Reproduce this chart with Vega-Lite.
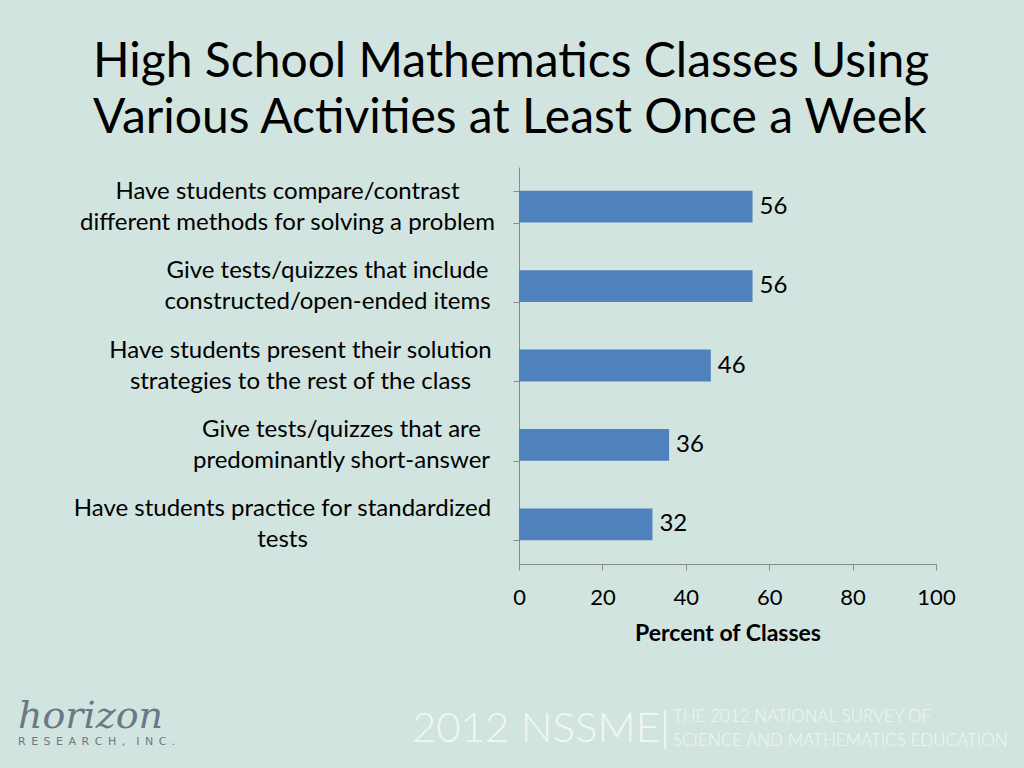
{
  "$schema": "https://vega.github.io/schema/vega-lite/v6.json",
  "background": "#d2e4df",
  "padding": {"left": 18, "top": 39, "right": 20, "bottom": 25},
  "config": {"view": {"stroke": null}, "font": "Lato"},
  "title": {
    "text": "horizon",
    "subtitle": "R\u2002E\u2002S\u2002E\u2002A\u2002R\u2002C\u2002H\u2002,\u2002\u2002I\u2002N\u2002C\u2002.",
    "orient": "bottom",
    "anchor": "start",
    "frame": "bounds",
    "dx": -55,
    "dy": -52,
    "offset": 0,
    "fontSize": 38,
    "font": "DejaVu Serif",
    "fontStyle": "italic",
    "fontWeight": "normal",
    "color": "#6b7885",
    "subtitleFont": "DejaVu Sans",
    "subtitleFontSize": 11,
    "subtitleColor": "#6b7885",
    "subtitlePadding": 0
  },
  "vconcat": [
    {
      "title": {
        "text": "2012 NSSME|",
        "orient": "bottom",
        "anchor": "start",
        "frame": "bounds",
        "dx": 339,
        "dy": -40,
        "offset": 0,
        "fontSize": 42,
        "font": "Lato",
        "fontWeight": 300,
        "color": "#f3f8ee"
      },
      "vconcat": [
        {
          "title": {
            "text": ["THE 2012 NATIONAL SURVEY OF", "SCIENCE AND MATHEMATICS EDUCATION"],
            "orient": "bottom",
            "anchor": "start",
            "frame": "bounds",
            "dx": 600,
            "offset": 64,
            "fontSize": 17,
            "font": "Lato",
            "fontWeight": 300,
            "color": "#f3f8ee",
            "lineHeight": 24
          },
          "vconcat": [
            {
              "title": {
                "text": ["High School Mathematics Classes Using", "Various Activities at Least Once a Week"],
                "anchor": "start",
                "frame": "group",
                "dx": -426,
                "offset": 12,
                "fontSize": 48,
                "font": "Lato",
                "fontWeight": "normal",
                "color": "#000000",
                "lineHeight": 56
              },
              "width": 417,
              "height": 397,
              "data": {
                "values": [
                  {"activity": "Have students compare/contrast|different methods for solving a problem", "percent": 56},
                  {"activity": "Give tests/quizzes that include|constructed/open-ended items", "percent": 56},
                  {"activity": "Have students present their solution|strategies to the rest of the class", "percent": 46},
                  {"activity": "Give tests/quizzes that are|predominantly short-answer", "percent": 36},
                  {"activity": "Have students practice for standardized|tests", "percent": 32}
                ]
              },
              "encoding": {
                "y": {
                  "field": "activity",
                  "type": "nominal",
                  "sort": null,
                  "scale": {"paddingInner": 0.6, "paddingOuter": 0.3},
                  "axis": {
                    "title": null,
                    "labelExpr": "split(datum.label, '|')",
                    "labelAlign": "center",
                    "labelBaseline": "middle",
                    "labelPadding": 22,
                    "labelOffset": -15.5,
                    "labelLimit": 700,
                    "labelFontSize": 24,
                    "labelLineHeight": 31,
                    "labelColor": "#000000",
                    "labelFont": "Lato",
                    "tickBand": "extent",
                    "tickSize": 6,
                    "tickColor": "#8a8a8a",
                    "domainColor": "#8a8a8a",
                    "grid": false,
                    "encoding": {
                      "labels": {
                        "dx": {
                          "condition": [
                            {"test": "indexof(datum.label, 'compare') >= 0", "value": -204},
                            {"test": "indexof(datum.label, 'constructed') >= 0", "value": -164},
                            {"test": "indexof(datum.label, 'present') >= 0", "value": -191},
                            {"test": "indexof(datum.label, 'short-answer') >= 0", "value": -150}
                          ],
                          "value": -209
                        }
                      }
                    }
                  }
                },
                "x": {
                  "field": "percent",
                  "type": "quantitative",
                  "scale": {"domain": [0, 100]},
                  "axis": {
                    "title": "Percent of Classes",
                    "values": [0, 20, 40, 60, 80, 100],
                    "labelFontSize": 22,
                    "labelColor": "#000000",
                    "labelFont": "Lato",
                    "labelPadding": 17,
                    "labelFlush": false,
                    "tickSize": 6,
                    "tickColor": "#8a8a8a",
                    "domainColor": "#8a8a8a",
                    "grid": false,
                    "titleFontSize": 23,
                    "titleFontWeight": "bold",
                    "titleFont": "Lato",
                    "titleColor": "#000000",
                    "titlePadding": 14
                  }
                }
              },
              "layer": [
                {"mark": {"type": "bar", "color": "#4f81bd"}},
                {
                  "mark": {"type": "text", "align": "left", "baseline": "middle", "dx": 7, "fontSize": 24, "font": "Lato", "color": "#000000"},
                  "encoding": {"text": {"field": "percent", "type": "quantitative"}}
                }
              ]
            }
          ]
        }
      ]
    }
  ]
}
